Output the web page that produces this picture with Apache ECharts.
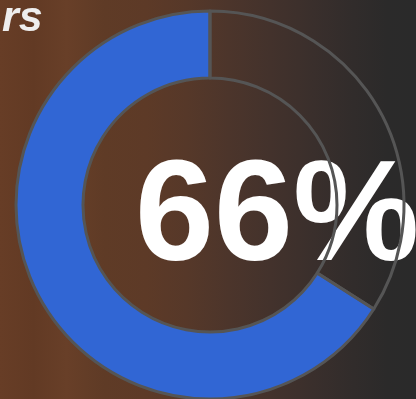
<!DOCTYPE html>
<html>
<head>
<meta charset="utf-8">
<script src="https://cdn.jsdelivr.net/npm/echarts@6/dist/echarts.min.js"></script>
<style>
  html, body { margin: 0; padding: 0; }
  #chart { width: 416px; height: 399px; }
</style>
</head>
<body>
<div id="chart"></div>
<script>
// Gauge-style donut: share completed vs. remaining
const sliceNames = ['Completed', 'Remaining'];
const sliceValues = [66, 34];
const titleText = 'rs';

const chart = echarts.init(document.getElementById('chart'), null, { renderer: 'canvas' });

const ringBorder = { borderColor: '#555555', borderWidth: 3 };

chart.setOption({
  animation: false,
  backgroundColor: new echarts.graphic.LinearGradient(0, 0, 1, 0, [
    { offset: 0.00, color: '#673d26' },
    { offset: 0.08, color: '#623a24' },
    { offset: 0.16, color: '#683f28' },
    { offset: 0.25, color: '#5f3b26' },
    { offset: 0.35, color: '#5d3a27' },
    { offset: 0.45, color: '#563829' },
    { offset: 0.55, color: '#4c352b' },
    { offset: 0.65, color: '#43322c' },
    { offset: 0.75, color: '#3a2f2c' },
    { offset: 0.85, color: '#312c2b' },
    { offset: 0.93, color: '#2b2a2a' },
    { offset: 1.00, color: '#2a2a2a' }
  ]),
  title: {
    text: titleText,
    left: -3,
    top: -7,
    textStyle: {
      color: '#eeeeee',
      fontFamily: 'Liberation Sans, Arial, sans-serif',
      fontStyle: 'italic',
      fontWeight: 'bold',
      fontSize: 43
    }
  },
  series: [{
    type: 'pie',
    center: [210, 205],
    radius: [127, 194],
    startAngle: 90,
    clockwise: false,
    silent: true,
    label: { show: false },
    labelLine: { show: false },
    emphasis: { disabled: true },
    data: [
      { name: sliceNames[0], value: sliceValues[0], itemStyle: Object.assign({ color: '#3166d4' }, ringBorder) },
      { name: sliceNames[1], value: sliceValues[1], itemStyle: Object.assign({ color: 'rgba(0,0,0,0)' }, ringBorder) }
    ]
  }],
  graphic: [{
    type: 'text',
    left: 135,
    top: 150,
    silent: true,
    style: {
      text: sliceValues[0] + '%',
      fill: '#ffffff',
      font: 'bold 142px "Liberation Sans", Arial, sans-serif',
      shadowColor: 'rgba(0,0,0,0.7)',
      shadowBlur: 5,
      shadowOffsetX: 3,
      shadowOffsetY: 3
    }
  }]
});
</script>
</body>
</html>
